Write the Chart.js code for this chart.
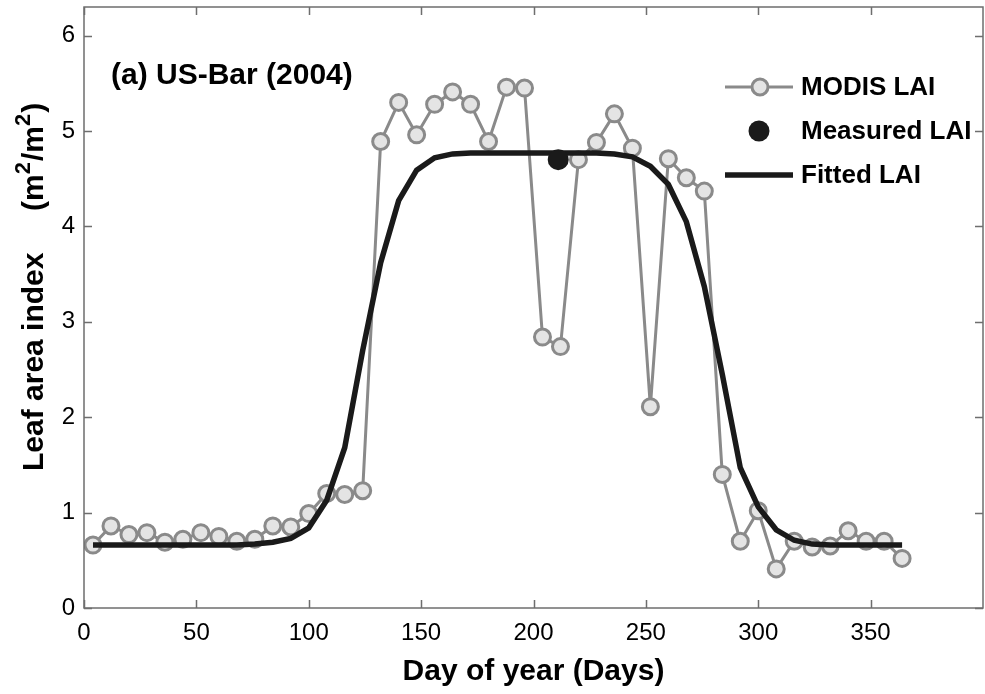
<!DOCTYPE html>
<html>
<head>
<meta charset="utf-8">
<title>US-Bar 2004 LAI</title>
<script src="https://cdn.jsdelivr.net/npm/chart.js@4.4.1/dist/chart.umd.min.js"></script>
<style>
  html, body { margin: 0; padding: 0; background: #fff; }
  #wrap { width: 985px; height: 694px; }
</style>
</head>
<body>
<div id="wrap"><canvas id="ch-lai" width="985" height="694"></canvas></div>
<script>
// 8-day MODIS composites, US-Bar 2004
const days = [4, 12, 20, 28, 36, 44, 52, 60, 68, 76, 84, 92, 100, 108, 116, 124,
  132, 140, 148, 156, 164, 172, 180, 188, 196, 204, 212, 220, 228, 236, 244, 252,
  260, 268, 276, 284, 292, 300, 308, 316, 324, 332, 340, 348, 356, 364];
const modisLai = [0.66, 0.86, 0.77, 0.79, 0.69, 0.72, 0.79, 0.75, 0.70, 0.72, 0.86, 0.85, 0.99, 1.20, 1.19, 1.23,
  4.89, 5.30, 4.96, 5.28, 5.41, 5.28, 4.89, 5.46, 5.45, 2.84, 2.74, 4.70, 4.88, 5.18, 4.82, 2.11,
  4.71, 4.51, 4.37, 1.40, 0.70, 1.02, 0.41, 0.70, 0.64, 0.65, 0.81, 0.70, 0.70, 0.52];
const fittedLai = [0.66, 0.66, 0.66, 0.66, 0.66, 0.66, 0.66, 0.66, 0.66, 0.67, 0.69, 0.73, 0.84, 1.13, 1.68, 2.70,
  3.62, 4.27, 4.59, 4.72, 4.76, 4.77, 4.77, 4.77, 4.77, 4.77, 4.77, 4.77, 4.77, 4.76, 4.73, 4.63,
  4.44, 4.05, 3.37, 2.45, 1.47, 1.06, 0.82, 0.71, 0.67, 0.66, 0.66, 0.66, 0.66, 0.66];
const measuredDay = [211];
const measuredLai = [4.70];

const xTicks = [0, 50, 100, 150, 200, 250, 300, 350];
const yTicks = [0, 1, 2, 3, 4, 5, 6];

const GREY = '#8a8a8a';
const FILL = '#e4e4e4';
const BLACK = '#1a1a1a';
const AXIS = '#6e6e6e';
const FONT = '"Liberation Sans", Arial, Helvetica, sans-serif';

const pts = (xs, ys) => xs.map((x, i) => ({ x, y: ys[i] }));

// box + inward ticks on all four sides, matlab style
const boxTicks = {
  id: 'boxTicks',
  afterDraw(chart) {
    const { ctx, chartArea: a, scales } = chart;
    const len = 8;
    ctx.save();
    ctx.strokeStyle = AXIS;
    ctx.lineWidth = 1.5;
    ctx.strokeRect(a.left, a.top, a.right - a.left, a.bottom - a.top);
    ctx.beginPath();
    xTicks.forEach(v => {
      const px = Math.round(scales.x.getPixelForValue(v)) + 0.5;
      ctx.moveTo(px, a.bottom); ctx.lineTo(px, a.bottom - len);
      ctx.moveTo(px, a.top); ctx.lineTo(px, a.top + len);
    });
    yTicks.forEach(v => {
      const py = Math.round(scales.y.getPixelForValue(v)) + 0.5;
      ctx.moveTo(a.left, py); ctx.lineTo(a.left + len, py);
      ctx.moveTo(a.right, py); ctx.lineTo(a.right - len, py);
    });
    ctx.stroke();
    ctx.restore();
  }
};

// writes rotated text piece by piece, bottom to top; sup pieces are raised and smaller
function drawRotatedTitle(ctx, x, y, parts) {
  ctx.save();
  ctx.translate(x, y);
  ctx.rotate(-Math.PI / 2);
  ctx.textAlign = 'left';
  ctx.textBaseline = 'alphabetic';
  let cx = 0;
  parts.forEach(p => {
    ctx.font = 'bold ' + (p.sup ? 22 : 30) + 'px ' + FONT;
    ctx.fillText(p.t, cx, p.sup ? -13 : 0);
    cx += ctx.measureText(p.t).width + (p.sup ? 1 : 0);
  });
  ctx.restore();
}

// panel label, y title and the in-plot legend
const annotations = {
  id: 'annotations',
  afterDraw(chart) {
    const { ctx } = chart;
    ctx.save();
    ctx.fillStyle = '#000';
    ctx.textBaseline = 'middle';
    ctx.font = 'bold 30px ' + FONT;
    ctx.fillText('(a) US-Bar (2004)', 111, 76);

    drawRotatedTitle(ctx, 43, 471, [
      { t: 'Leaf area index     (m' }, { t: '2', sup: true },
      { t: '/m' }, { t: '2', sup: true }, { t: ')' }
    ]);

    // legend
    const lx0 = 725, lx1 = 793, tx = 801;
    ctx.textBaseline = 'middle';
    ctx.font = 'bold 26px ' + FONT;
    ctx.strokeStyle = GREY; ctx.lineWidth = 3;
    ctx.beginPath(); ctx.moveTo(lx0, 87); ctx.lineTo(lx1, 87); ctx.stroke();
    ctx.beginPath(); ctx.arc(760, 87, 8, 0, Math.PI * 2);
    ctx.fillStyle = FILL; ctx.fill(); ctx.stroke();
    ctx.fillStyle = BLACK;
    ctx.beginPath(); ctx.arc(759, 131, 10.5, 0, Math.PI * 2); ctx.fill();
    ctx.strokeStyle = BLACK; ctx.lineWidth = 5.5;
    ctx.beginPath(); ctx.moveTo(lx0, 175); ctx.lineTo(lx1, 175); ctx.stroke();
    ctx.fillStyle = '#000';
    ctx.fillText('MODIS LAI', tx, 88);
    ctx.fillText('Measured LAI', tx, 132);
    ctx.fillText('Fitted LAI', tx, 176);
    ctx.restore();
  }
};

new Chart(document.getElementById('ch-lai'), {
  type: 'line',
  data: {
    datasets: [
      {
        label: 'Measured LAI',
        data: pts(measuredDay, measuredLai),
        showLine: false,
        pointRadius: 10.5,
        pointBackgroundColor: BLACK,
        pointBorderWidth: 0,
        order: 0
      },
      {
        label: 'Fitted LAI',
        data: pts(days, fittedLai),
        borderColor: BLACK,
        borderWidth: 5.5,
        pointRadius: 0,
        tension: 0,
        order: 1
      },
      {
        label: 'MODIS LAI',
        data: pts(days, modisLai),
        borderColor: GREY,
        borderWidth: 3,
        pointRadius: 8,
        pointBackgroundColor: FILL,
        pointBorderColor: GREY,
        pointBorderWidth: 3,
        tension: 0,
        order: 2
      }
    ]
  },
  options: {
    responsive: false,
    animation: false,
    layout: { autoPadding: false, padding: { left: 0, right: 2, top: 7, bottom: 0 } },
    plugins: { legend: { display: false }, tooltip: { enabled: false } },
    scales: {
      x: {
        type: 'linear',
        min: 0,
        max: 400,
        afterBuildTicks: s => { s.ticks = xTicks.map(v => ({ value: v })); },
        afterFit: s => { s.height = 86; s.paddingLeft = 0; s.paddingRight = 0; },
        grid: { display: false, drawTicks: false },
        border: { display: false },
        ticks: { color: '#000', padding: 11, maxRotation: 0, font: { family: FONT, size: 24 } },
        title: { display: true, text: 'Day of year (Days)', color: '#000', padding: { top: 2 }, font: { family: FONT, size: 30, weight: 'bold' } }
      },
      y: {
        min: 0,
        max: 6.3,
        afterBuildTicks: s => { s.ticks = yTicks.map(v => ({ value: v })); },
        afterFit: s => { s.width = 84; s.paddingTop = 0; s.paddingBottom = 0; },
        grid: { display: false, drawTicks: false },
        border: { display: false },
        ticks: { color: '#000', padding: 9, font: { family: FONT, size: 24 } }
      }
    }
  },
  plugins: [boxTicks, annotations]
});
</script>
</body>
</html>
